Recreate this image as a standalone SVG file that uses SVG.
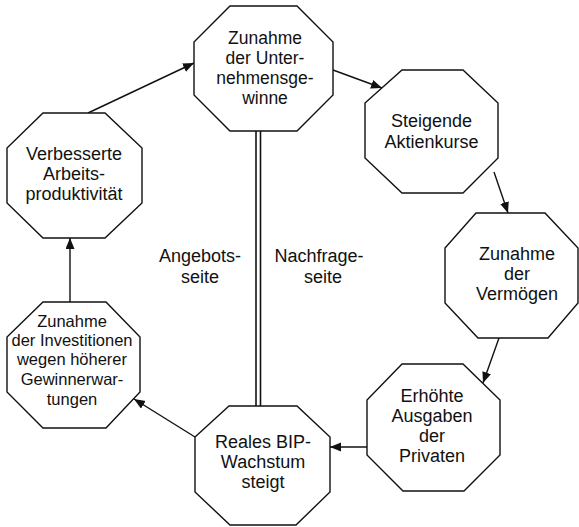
<svg xmlns="http://www.w3.org/2000/svg" width="579" height="527" viewBox="0 0 579 527">
<style>
.oct{fill:#fff;stroke:#111;stroke-width:1.4;stroke-linejoin:miter}
.t{font-family:"Liberation Sans",Arial,sans-serif;font-size:18px;fill:#111;text-anchor:middle}
.s{font-size:16.5px}
.m{font-size:17.5px}
.c{stroke:#111;stroke-width:1.4;fill:none;marker-end:url(#ah)}
.d{stroke:#111;stroke-width:1.6;fill:none}
</style>
<defs>
<marker id="ah" markerWidth="12" markerHeight="10" refX="11" refY="4.5" orient="auto" markerUnits="userSpaceOnUse">
<path d="M0,0 L11,4.5 L0,9 Z" fill="#111"/>
</marker>
</defs>
<rect width="579" height="527" fill="#fff"/>
<g id="connectors">
<line class="c" x1="88" y1="113" x2="194" y2="63"/>
<line class="c" x1="333" y1="70" x2="382" y2="88"/>
<line class="c" x1="494" y1="172" x2="508" y2="213"/>
<line class="c" x1="499" y1="338" x2="483" y2="383"/>
<line class="c" x1="367" y1="447" x2="330" y2="447"/>
<line class="c" x1="195" y1="437" x2="134" y2="399"/>
<line class="c" x1="70" y1="302" x2="70" y2="238"/>
<line class="d" x1="256" y1="131" x2="256" y2="406"/>
<line class="d" x1="260.5" y1="131" x2="260.5" y2="406"/>
</g>
<g id="n-gewinne">
<polygon class="oct" points="230,6 297,6 333,42 333,95 297,131 230,131 194,95 194,42"/>
<text class="t m" x="265" y="44">Zunahme</text>
<text class="t m" x="265" y="64">der Unter-</text>
<text class="t m" x="265" y="84">nehmensge-</text>
<text class="t m" x="265" y="104">winne</text>
</g>
<g id="n-aktien">
<polygon class="oct" points="402,70 463,70 498,103 498,158 463,193 402,193 365,158 365,103"/>
<text class="t" x="431.5" y="127">Steigende</text>
<text class="t" x="431.5" y="148">Aktienkurse</text>
</g>
<g id="n-vermoegen">
<polygon class="oct" points="476,213 545,213 578,248 578,303 548,338 478,338 445,303 445,248"/>
<text class="t" x="517" y="260">Zunahme</text>
<text class="t" x="517" y="280">der</text>
<text class="t" x="517" y="300">Vermögen</text>
</g>
<g id="n-ausgaben">
<polygon class="oct" points="402,364 463,364 500,400 500,455 464,491 403,491 367,455 367,400"/>
<text class="t" x="432" y="402">Erhöhte</text>
<text class="t" x="432" y="422">Ausgaben</text>
<text class="t" x="432" y="442">der</text>
<text class="t" x="432" y="462">Privaten</text>
</g>
<g id="n-bip">
<polygon class="oct" points="229,406 297,406 330,437 330,492 296,525 230,525 195,492 195,437"/>
<text class="t" x="263" y="448">Reales BIP-</text>
<text class="t" x="263" y="468">Wachstum</text>
<text class="t" x="263" y="488">steigt</text>
</g>
<g id="n-investitionen">
<polygon class="oct" points="43,302 106,302 140,337 140,392 106,428 43,428 7,392 7,337"/>
<text class="t s" x="72" y="327">Zunahme</text>
<text class="t s" x="72" y="346">der Investitionen</text>
<text class="t s" x="72" y="365">wegen höherer</text>
<text class="t s" x="72" y="385">Gewinnerwar-</text>
<text class="t s" x="72" y="405">tungen</text>
</g>
<g id="n-produktivitaet">
<polygon class="oct" points="43,113 105,113 142,148 142,203 105,238 43,238 7,203 7,148"/>
<text class="t" x="74" y="160">Verbesserte</text>
<text class="t" x="74" y="180">Arbeits-</text>
<text class="t" x="74" y="200">produktivität</text>
</g>
<g id="labels">
<text class="t" x="200" y="262">Angebots-</text>
<text class="t" x="200" y="283">seite</text>
<text class="t" x="319" y="262">Nachfrage-</text>
<text class="t" x="323" y="283">seite</text>
</g>
</svg>
